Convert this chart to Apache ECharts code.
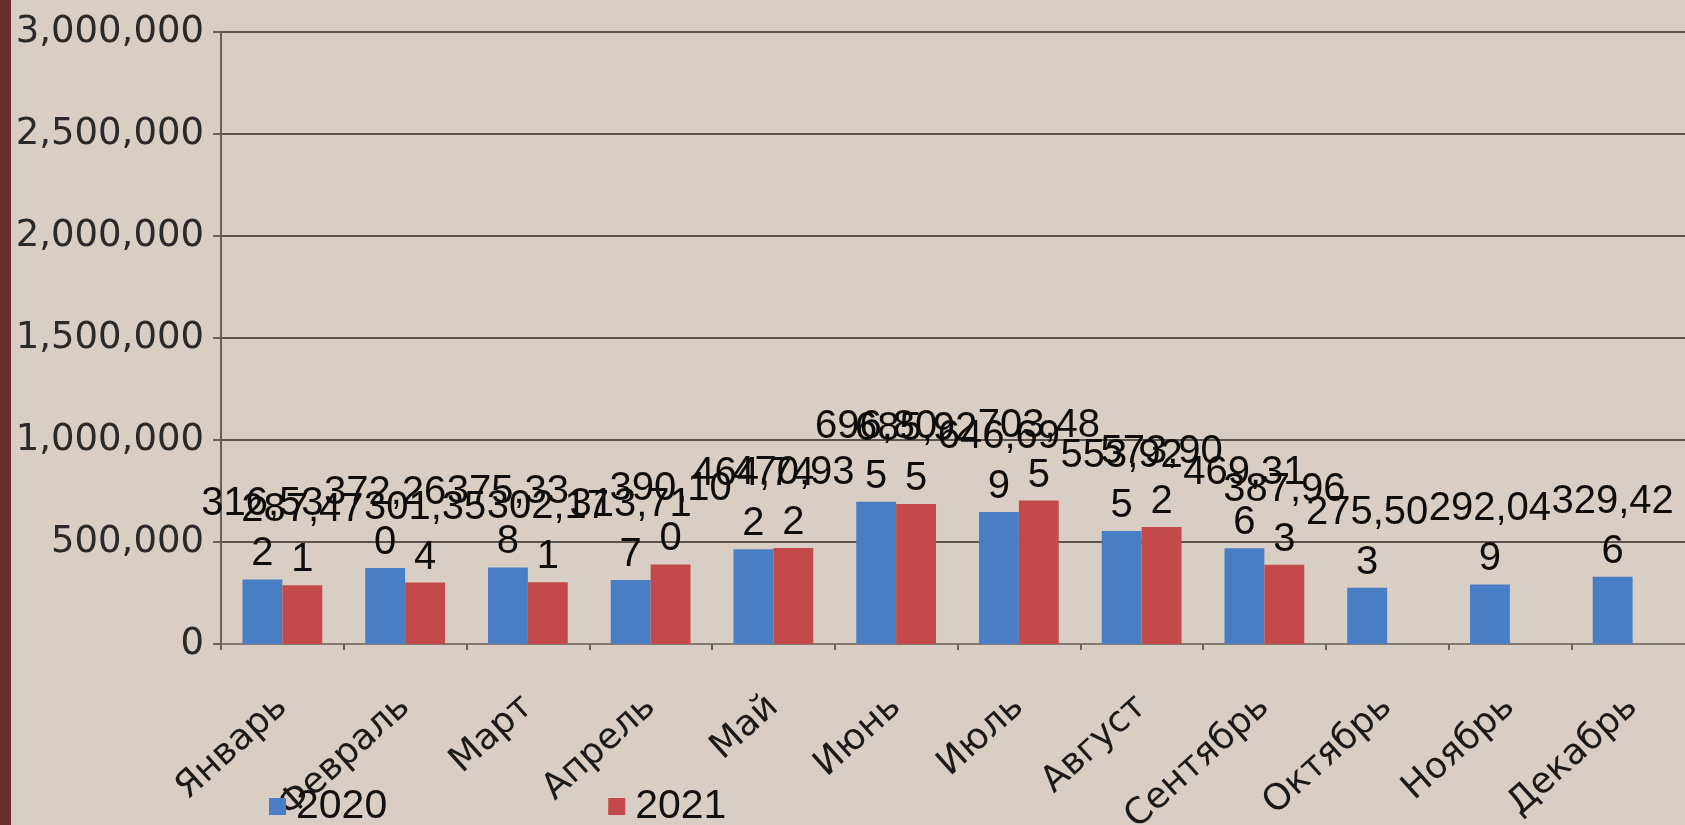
<!DOCTYPE html>
<html>
<head>
<meta charset="utf-8">
<script src="https://cdn.jsdelivr.net/npm/echarts@6/dist/echarts.min.js"></script>
<style>
html,body{margin:0;padding:0;background:#D9CEC3;}
#chart{width:1685px;height:825px;}
</style>
</head>
<body>
<div id="chart"></div>
<script>
const months = ['Январь','Февраль','Март','Апрель','Май','Июнь','Июль','Август','Сентябрь','Октябрь','Ноябрь','Декабрь'];
const values2020 = [316532, 372260, 375338, 313717, 464742, 696805, 646699, 553925, 469316, 275503, 292049, 329426];
const values2021 = [287471, 301354, 302171, 390100, 470932, 685925, 703485, 573902, 387963, null, null, null];
const yTicks = {min: 0, max: 3000000, interval: 500000};

function fmt(v){
  return String(v).replace(/\B(?=(\d{3})+(?!\d))/g, ',');
}
function wrapLabel(p){
  if (p.value == null) return '';
  const s = fmt(p.value);
  return s.slice(0,6) + '\n' + s.slice(6);
}

const chart = echarts.init(document.getElementById('chart'));
const labelStyle = {
  show: true,
  position: 'top',
  distance: 0,
  formatter: wrapLabel,
  fontFamily: 'Liberation Sans',
  fontSize: 40,
  lineHeight: 50,
  color: '#0d0d0d'
};
chart.setOption({
  backgroundColor: '#D9CEC3',
  animation: false,
  graphic: [
    {type: 'rect', left: 0, top: 0, shape: {width: 11, height: 825}, style: {fill: '#6A2C29'}, silent: true}
  ],
  grid: {left: 221, right: -9, top: 32, bottom: 181, containLabel: false, outerBoundsMode: 'none'},
  legend: {
    left: 264, top: 781,
    itemWidth: 17, itemHeight: 17, itemGap: 221,
    icon: 'rect',
    textStyle: {fontFamily: 'Liberation Sans', fontSize: 41, lineHeight: 30, color: '#111', padding: [0,0,0,5]},
    data: ['2020','2021']
  },
  xAxis: {
    type: 'category',
    data: months,
    axisLine: {show: true, lineStyle: {color: '#857a70', width: 2}},
    axisTick: {show: true, length: 6, lineStyle: {color: '#6b6058', width: 2}},
    axisLabel: {rotate: 42, margin: 58, fontFamily: 'DejaVu Sans', fontSize: 36, color: '#1a1a1a', interval: 0}
  },
  yAxis: {
    type: 'value',
    min: yTicks.min, max: yTicks.max, interval: yTicks.interval,
    axisLine: {show: true, lineStyle: {color: '#6b6058', width: 2}},
    axisTick: {show: true, length: 8, lineStyle: {color: '#6b6058', width: 2}},
    splitLine: {show: true, lineStyle: {color: '#5a524b', width: 2}},
    axisLabel: {margin: 17, fontFamily: 'DejaVu Sans', fontSize: 37, color: '#2a2a2a', formatter: fmt}
  },
  series: [
    {name: '2020', type: 'bar', data: values2020, barGap: '0%', barCategoryGap: '35%', itemStyle: {color: '#4A7EC4'}, label: labelStyle},
    {name: '2021', type: 'bar', data: values2021, itemStyle: {color: '#C4494A'}, label: labelStyle}
  ]
});
</script>
</body>
</html>
